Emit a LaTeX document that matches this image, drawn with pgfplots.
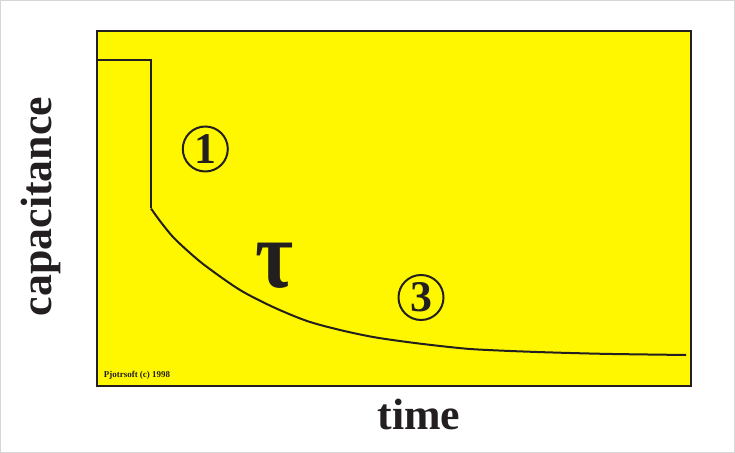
\documentclass[border=0pt]{standalone}
\usepackage{pgfplots}
\pgfplotsset{compat=1.18}
\usepackage{fontspec}
\setmainfont{Liberation Serif}
\definecolor{cyel}{RGB}{255,247,0}
\definecolor{cblk}{RGB}{35,31,32}
\definecolor{cfrm}{RGB}{215,215,215}
\begin{document}
\begin{tikzpicture}[x=1bp,y=1bp]
\useasboundingbox (0,0) rectangle (735,453);
\draw[cfrm, line width=1.2bp] (0.6,0.6) rectangle (734.4,452.4);
\begin{axis}[
  at={(97bp,67bp)}, anchor=south west,
  scale only axis, width=594bp, height=355bp,
  xmin=0, xmax=594, ymin=0, ymax=355,
  axis background/.style={fill=cyel},
  axis line style={cblk, line width=2.8bp},
  ticks=none,
  clip=false,
]
\addplot[cblk, line width=2bp, line join=miter] coordinates {
(0,326) (54,326) (54,177.5)
};
\addplot[cblk, line width=2bp, smooth, tension=0.5] coordinates {
(54,177.5) (63,165) (76,149) (93,133) (110,119) (143,96) (176,79) (210,65)
(243,56) (276,49) (310,44) (343,40) (373,37) (406,35.3) (440,34) (473,33)
(515,32) (589,31)
};
\node[circle, draw=cblk, line width=2bp, minimum size=45bp, inner sep=0pt, text=cblk]
  at (axis cs:108.3,237) {\fontsize{44}{44}\selectfont\bfseries 1};
\node[circle, draw=cblk, line width=2bp, minimum size=45bp, inner sep=0pt, text=cblk]
  at (axis cs:324,88.5) {\fontsize{44}{44}\selectfont\bfseries 3};
\node[text=cblk, inner sep=0pt] at (axis cs:177.5,120.5)
  {\scalebox{1.15}[1.35]{\fontsize{72}{72}\selectfont\bfseries τ}};
\node[text=cblk, inner sep=0pt, rotate=90, anchor=base] at (axis cs:-45.3,179.5)
  {\fontsize{44}{44}\selectfont\bfseries capacitance};
\node[text=cblk, inner sep=0pt, anchor=base] at (axis cs:322,-44)
  {\fontsize{44}{44}\selectfont\bfseries time};
\node[text=cblk, inner sep=0pt, anchor=base] at (axis cs:40,8)
  {\fontsize{9}{9}\selectfont\bfseries Pjotrsoft (c) 1998};
\end{axis}
\end{tikzpicture}
\end{document}
